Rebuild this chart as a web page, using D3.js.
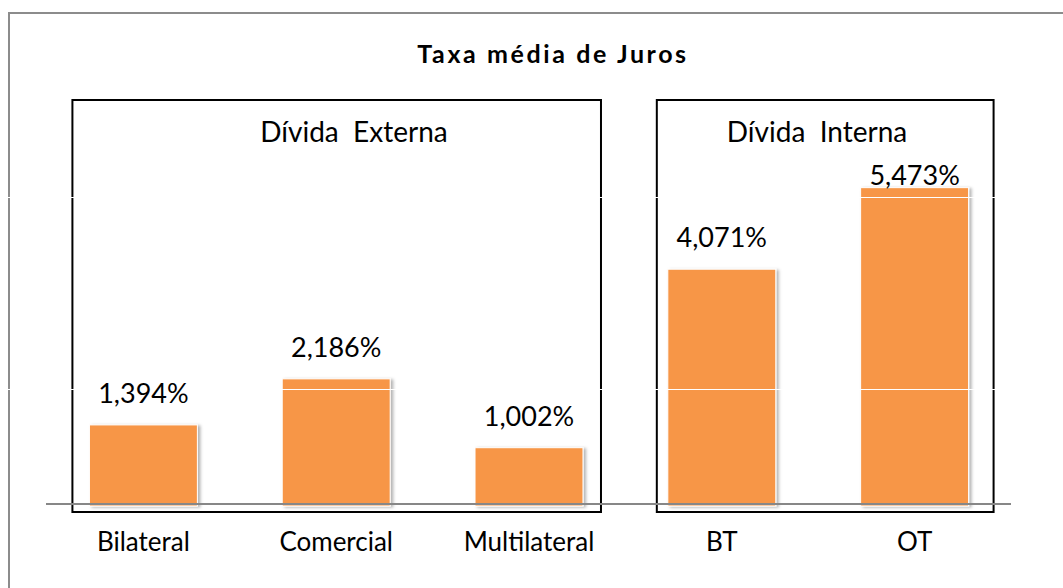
<!DOCTYPE html>
<html>
<head>
<meta charset="utf-8">
<script src="https://cdn.jsdelivr.net/npm/d3@7"></script>
<style>
  body { margin: 0; background: #fff; }
  svg { display: block; font-family: Lato, "Open Sans", sans-serif; }
</style>
</head>
<body>
<svg id="chart" width="1063" height="588"></svg>
<script>
// data
var categories = ["Bilateral", "Comercial", "Multilateral", "BT", "OT"];
var values = [1.394, 2.186, 1.002, 4.071, 5.473];
var panelTitles = ["Dívida  Externa", "Dívida  Interna"];
var panelMembers = [[0, 1, 2], [3, 4]];
var chartTitle = "Taxa média de Juros";

var fmt = function(v) { return d3.format(".3f")(v).replace(".", ",") + "%"; };

var svg = d3.select("#chart");
var barColor = "#F79646";

var x = d3.scaleBand()
  .domain(categories)
  .range([47, 1011])
  .paddingInner(0.44)
  .paddingOuter(0.22);

var y = d3.scaleLinear()
  .domain([0, 6])
  .range([506, 157]);

var defs = svg.append("defs");
var f = defs.append("filter").attr("id", "shadow")
  .attr("x", "-10%").attr("y", "-10%").attr("width", "125%").attr("height", "120%");
f.append("feDropShadow")
  .attr("dx", 2.5).attr("dy", 1).attr("stdDeviation", 1.6)
  .attr("flood-color", "#000").attr("flood-opacity", 0.3);

// outer frame
svg.append("rect")
  .attr("x", 9).attr("y", 13)
  .attr("width", 1100).attr("height", 620)
  .attr("fill", "none")
  .attr("stroke", "#8c8c8c")
  .attr("stroke-width", 2);

// title
svg.append("text")
  .attr("x", 553).attr("y", 63)
  .attr("text-anchor", "middle")
  .attr("font-size", 25)
  .attr("font-weight", "bold")
  .attr("letter-spacing", 2.6)
  .text(chartTitle);

// panel boxes
var panels = panelMembers.map(function(m, i) {
  var first = categories[m[0]], last = categories[m[m.length - 1]];
  var x0 = x(first) - (i == 0 ? 17 : 11);
  var x1 = x(last) + x.bandwidth() + (i == 0 ? 18 : 25);
  return {title: panelTitles[i], x0: x0, x1: x1};
});

svg.selectAll(".panel")
  .data(panels)
  .enter()
  .append("rect")
    .attr("class", "panel")
    .attr("x", function(d) { return d.x0; })
    .attr("y", 100)
    .attr("width", function(d) { return d.x1 - d.x0; })
    .attr("height", 412)
    .attr("fill", "none")
    .attr("stroke", "#000")
    .attr("stroke-width", 2);

// bars
svg.selectAll(".bar")
  .data(values)
  .enter()
  .append("rect")
    .attr("class", "bar")
    .attr("x", function(d, i) { return x(categories[i]); })
    .attr("y", function(d) { return y(d); })
    .attr("width", x.bandwidth())
    .attr("height", function(d) { return y(0) - y(d); })
    .attr("fill", barColor)
    .attr("stroke", "#fff")
    .attr("stroke-width", 1)
    .attr("filter", "url(#shadow)");

// baseline
svg.append("line")
  .attr("x1", 46).attr("x2", 1011)
  .attr("y1", 504).attr("y2", 504)
  .attr("stroke", "#878787")
  .attr("stroke-width", 2);

// sheet gridlines showing through (white)
[197.5, 389.5].forEach(function(gy) {
  svg.append("line")
    .attr("x1", 0).attr("x2", 1063)
    .attr("y1", gy).attr("y2", gy)
    .attr("stroke", "#fff")
    .attr("stroke-width", 1);
});

// panel titles
var titleX = [354, 817];
svg.selectAll(".ptitle")
  .data(panels)
  .enter()
  .append("text")
    .attr("class", "ptitle")
    .attr("x", function(d, i) { return titleX[i]; })
    .attr("y", 142)
    .attr("text-anchor", "middle")
    .attr("font-size", 28)
    .style("white-space", "pre")
    .text(function(d) { return d.title; });

// value labels
svg.selectAll(".vlabel")
  .data(values)
  .enter()
  .append("text")
    .attr("class", "vlabel")
    .attr("x", function(d, i) { return x(categories[i]) + x.bandwidth() / 2; })
    .attr("y", function(d) { return Math.max(y(d) - 22, 185); })
    .attr("text-anchor", "middle")
    .attr("font-size", 27)
    .text(fmt);

// category labels
svg.selectAll(".clabel")
  .data(categories)
  .enter()
  .append("text")
    .attr("class", "clabel")
    .attr("x", function(d) { return x(d) + x.bandwidth() / 2; })
    .attr("y", 551)
    .attr("text-anchor", "middle")
    .attr("font-size", 26)
    .text(function(d) { return d; });
</script>
</body>
</html>
